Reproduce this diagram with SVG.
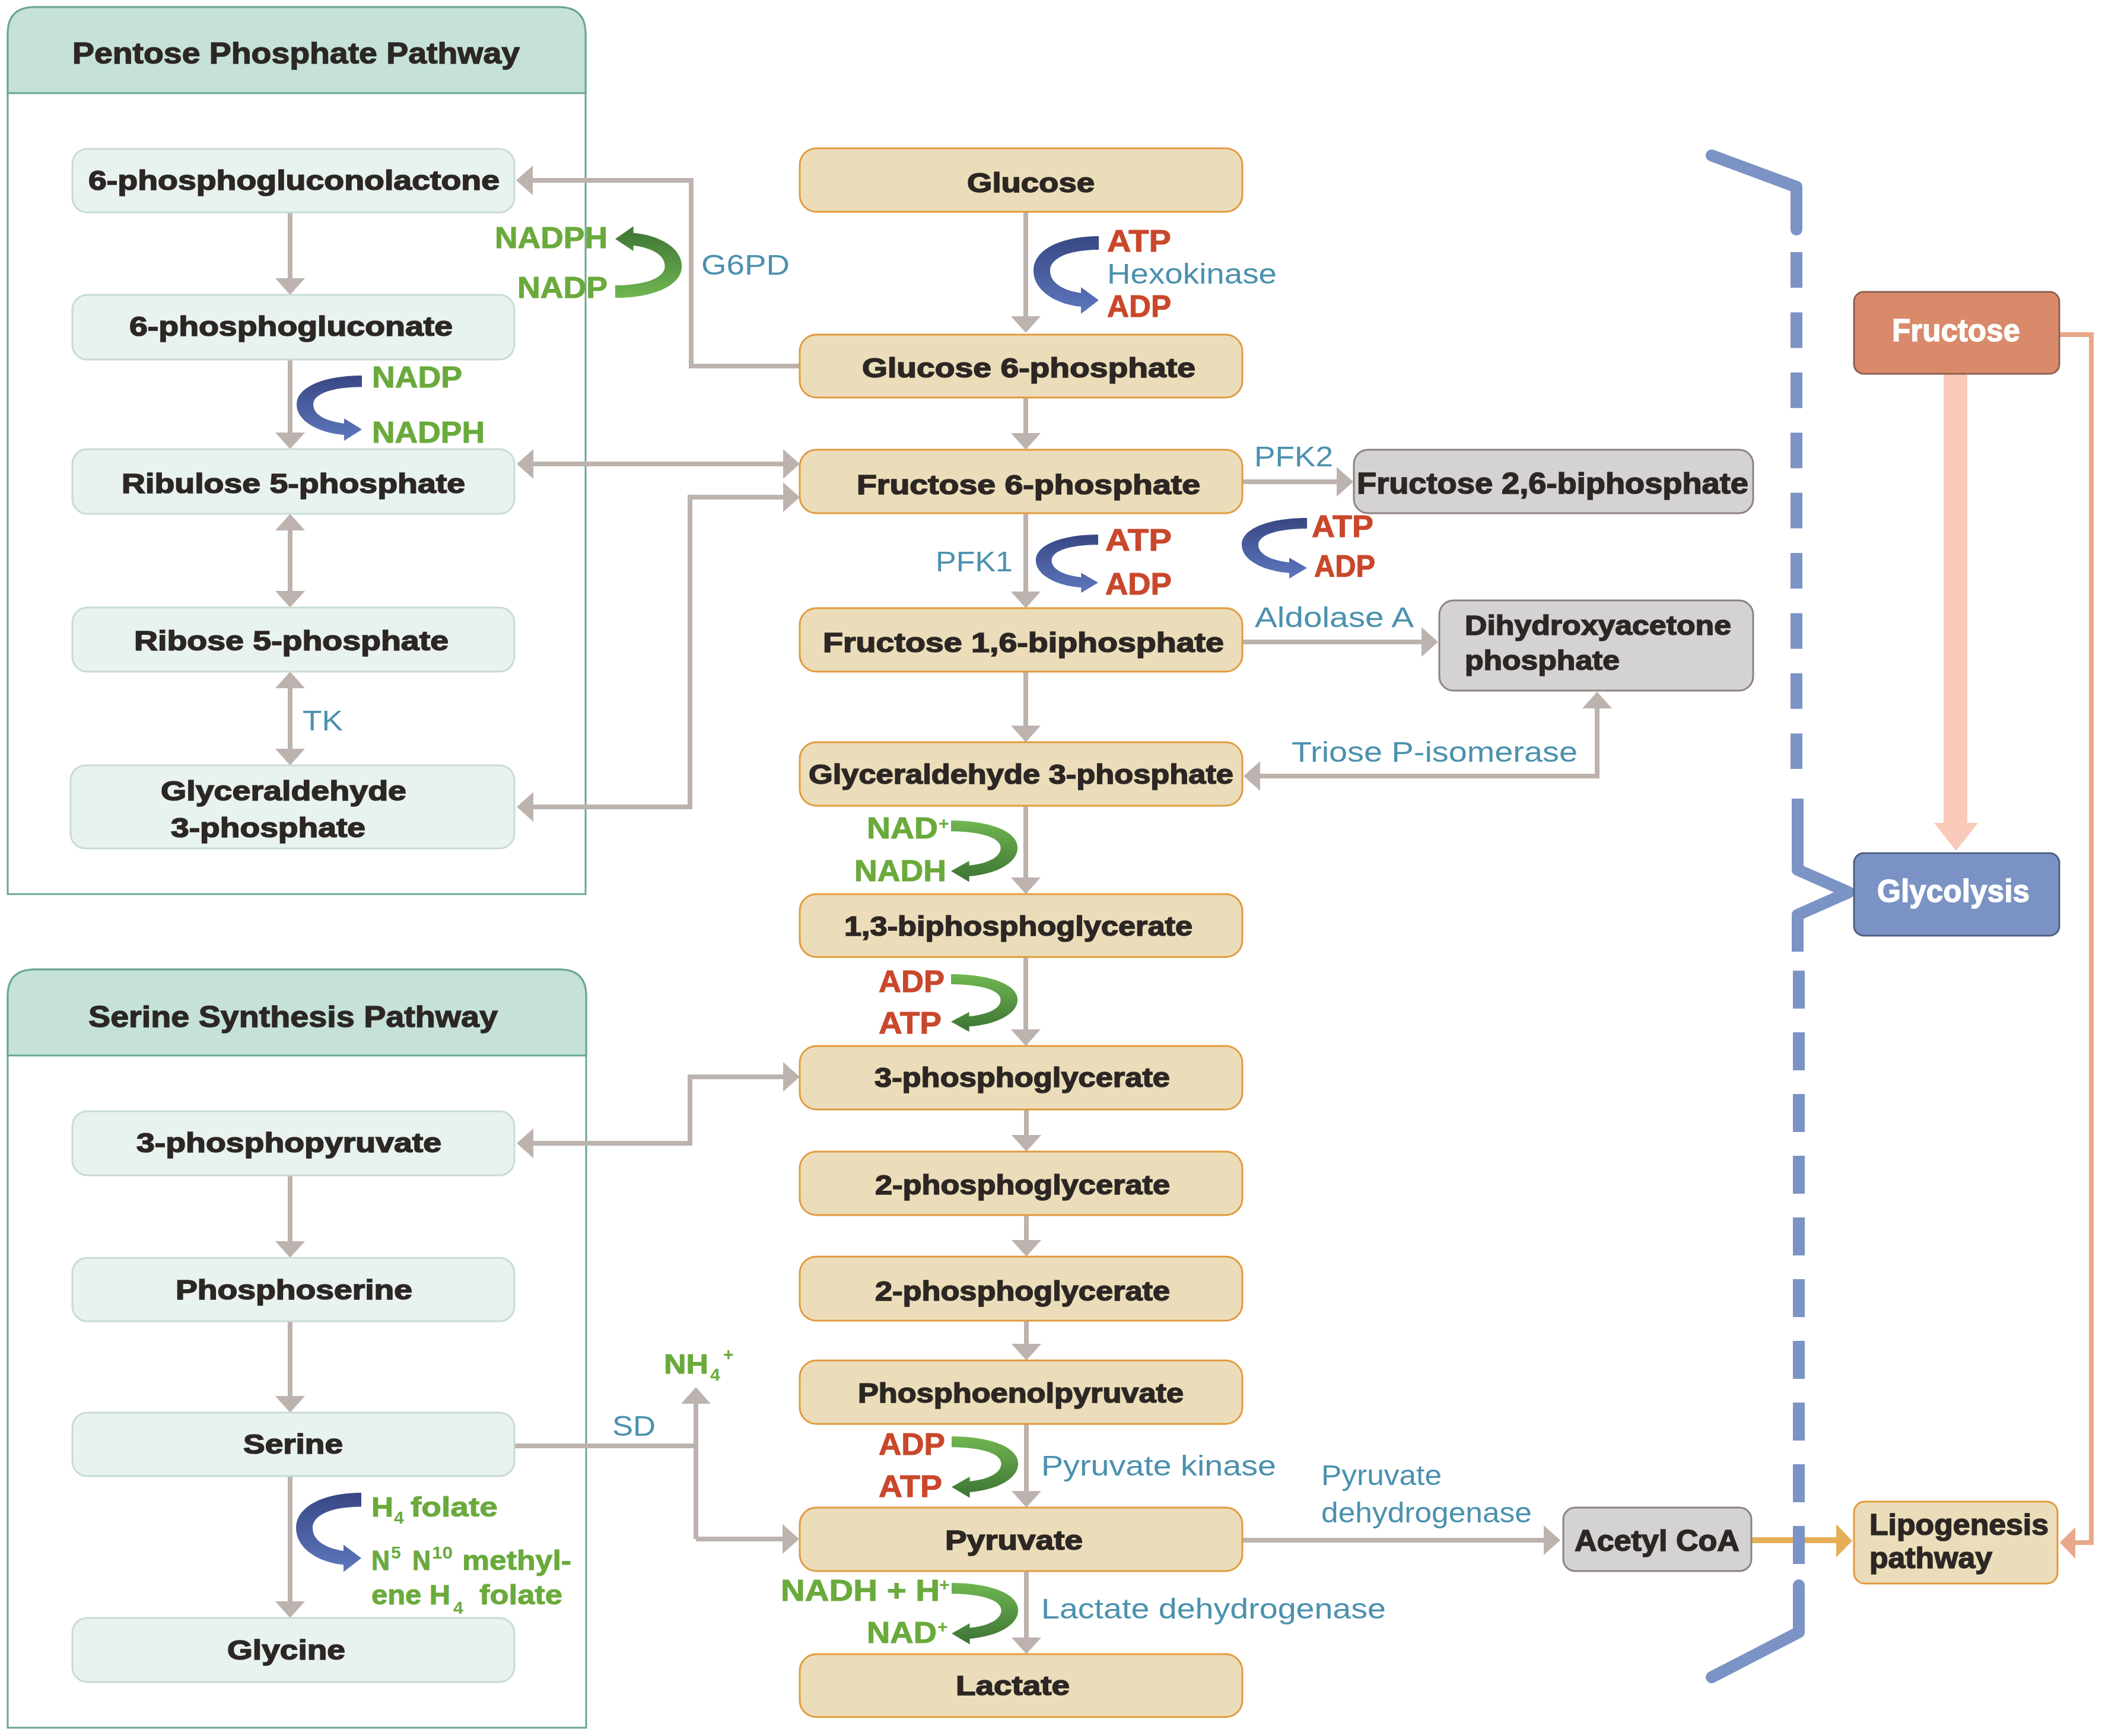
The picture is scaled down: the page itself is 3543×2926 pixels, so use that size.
<svg xmlns="http://www.w3.org/2000/svg" xmlns:xlink="http://www.w3.org/1999/xlink" width="3543" height="2926" viewBox="0 0 3543 2926">
<style>
text{font-family:"Liberation Sans",Arial,sans-serif}
.n{font-weight:bold;font-size:46px;fill:#2C2724;stroke:#2C2724;stroke-width:1.6px}
.nl{font-weight:bold;font-size:50px;fill:#2C2724;stroke:#2C2724;stroke-width:1.6px}
.hd{font-weight:bold;font-size:50px;fill:#2C2724;stroke:#2C2724;stroke-width:1.4px}
.w{font-weight:bold;font-size:54px;fill:#FFFFFF;stroke:#FFFFFF;stroke-width:1.4px}
.r{font-weight:bold;font-size:52px;fill:#C9472B;stroke:#C9472B;stroke-width:1px}
.g{font-weight:bold;font-size:50px;fill:#6AAA3C;stroke:#6AAA3C;stroke-width:1px}
.gs{font-weight:bold;font-size:46px;fill:#6AAA3C;stroke:#6AAA3C;stroke-width:1px}
.gsub{font-weight:bold;font-size:30px;fill:#6AAA3C}
.b{font-size:48px;fill:#4B91AE}
.pn{fill:#E8F2EF;stroke:#C8DCD5;stroke-width:3}
.cn{fill:#EBDDB9;stroke:#E29A3E;stroke-width:3}
.gn{fill:#D4D2D3;stroke:#8E8280;stroke-width:3}
.con{fill:none;stroke:#BDB3AE;stroke-width:8}
.frame{fill:#FFFFFF;stroke:#6BA597;stroke-width:3}
.hdr{fill:#C5E1D8;stroke:#6BA597;stroke-width:3}
.dash{fill:none;stroke:#7B93C5;stroke-width:20}
</style>
<defs>
<marker id="ah" viewBox="0 0 28 50" markerWidth="28" markerHeight="50" refX="14" refY="25" markerUnits="userSpaceOnUse" orient="auto-start-reverse">
<path d="M0,0 L28,25 L0,50 Z" fill="#BDB3AE"/>
</marker>
<linearGradient id="gBlue" x1="0" y1="0" x2="0" y2="1">
<stop offset="0" stop-color="#384783"/>
<stop offset="1" stop-color="#5D77BE"/>
</linearGradient>
<linearGradient id="gGreen" x1="0" y1="0" x2="0" y2="1">
<stop offset="0" stop-color="#70B651"/>
<stop offset="1" stop-color="#3C7334"/>
</linearGradient>
<path id="carrow" d="M0,0 C-62,0 -110,22 -110,58 C-110,92 -72,115 -30,119 L-30,131 L0,108 L-30,86 L-30,96 C-58,92 -82,80 -82,58 C-82,36 -48,23 0,23 Z"/>
</defs>

<rect width="3543" height="2926" fill="#FFFFFF"/>

<!-- Pathway frames -->
<g id="ppp-frame">
<path class="frame" d="M13,1507 V57 Q13,12 58,12 H942 Q987,12 987,57 V1507 Z"/>
<path class="hdr" d="M13,157 V57 Q13,12 58,12 H942 Q987,12 987,57 V157 Z"/>
<text class="hd" x="122" y="107" textLength="754" lengthAdjust="spacingAndGlyphs">Pentose Phosphate Pathway</text>
</g>
<g id="ssp-frame">
<path class="frame" d="M13,2912 V1679 Q13,1634 58,1634 H943 Q988,1634 988,1679 V2912 Z"/>
<path class="hdr" d="M13,1779 V1679 Q13,1634 58,1634 H943 Q988,1634 988,1679 V1779 Z"/>
<text class="hd" x="149" y="1731" textLength="690" lengthAdjust="spacingAndGlyphs">Serine Synthesis Pathway</text>
</g>

<!-- Connectors -->
<g id="connectors">
<path class="con" d="M489,358 V483" marker-end="url(#ah)"/>
<path class="con" d="M489,606 V743" marker-end="url(#ah)"/>
<path class="con" d="M489,880 V1010" marker-start="url(#ah)" marker-end="url(#ah)"/>
<path class="con" d="M489,1146 V1276" marker-start="url(#ah)" marker-end="url(#ah)"/>
<path class="con" d="M489,1981 V2106" marker-end="url(#ah)"/>
<path class="con" d="M489,2227 V2367" marker-end="url(#ah)"/>
<path class="con" d="M489,2488 V2713" marker-end="url(#ah)"/>
<path class="con" d="M1348,617 H1165 V304 H884" marker-end="url(#ah)"/>
<path class="con" d="M885,782 H1334" marker-start="url(#ah)" marker-end="url(#ah)"/>
<path class="con" d="M885,1360 H1163 V838 H1334" marker-start="url(#ah)" marker-end="url(#ah)"/>
<path class="con" d="M885,1927 H1163 V1815 H1334" marker-start="url(#ah)" marker-end="url(#ah)"/>
<path class="con" d="M867,2437 H1173"/>
<path class="con" d="M1173,2594 V2352" marker-end="url(#ah)"/>
<path class="con" d="M1173,2594 H1333" marker-end="url(#ah)"/>
<path class="con" d="M1729,357 V547" marker-end="url(#ah)"/>
<path class="con" d="M1729,670 V744" marker-end="url(#ah)"/>
<path class="con" d="M1729,865 V1011" marker-end="url(#ah)"/>
<path class="con" d="M1729,1132 V1237" marker-end="url(#ah)"/>
<path class="con" d="M1729,1358 V1493" marker-end="url(#ah)"/>
<path class="con" d="M1729,1613 V1749" marker-end="url(#ah)"/>
<path class="con" d="M1730,1870 V1927" marker-end="url(#ah)"/>
<path class="con" d="M1730,2048 V2104" marker-end="url(#ah)"/>
<path class="con" d="M1730,2226 V2279" marker-end="url(#ah)"/>
<path class="con" d="M1730,2400 V2527" marker-end="url(#ah)"/>
<path class="con" d="M1730,2648 V2774" marker-end="url(#ah)"/>
<path class="con" d="M2094,812 H2267" marker-end="url(#ah)"/>
<path class="con" d="M2094,1082 H2410" marker-end="url(#ah)"/>
<path class="con" d="M2692,1180 V1308 H2110" marker-start="url(#ah)" marker-end="url(#ah)"/>
<path class="con" d="M2094,2596 H2616" marker-end="url(#ah)"/>
<path d="M2952,2596 H3098" fill="none" stroke="#E5AE55" stroke-width="10"/>
<path d="M3095,2569 L3122,2597 L3095,2625 Z" fill="#E5AE55"/>
<path d="M3471,564 H3525 V2600 H3490" fill="none" stroke="#E9A88A" stroke-width="8"/>
<path d="M3498,2574 L3472,2600 L3498,2627 Z" fill="#E9A88A"/>
<path d="M3276,630 H3316 V1387 H3334 L3297,1434 L3260,1387 H3276 Z" fill="#F9C9B9"/>
<path class="dash" d="M2885,262 L3028,315 V387" stroke-linecap="round" stroke-linejoin="round"/>
<path class="dash" d="M3028,425 V1296" stroke-dasharray="60 41.4"/>
<path class="dash" d="M3030,1346 V1466 L3116,1504 L3030,1542 V1604" stroke-linejoin="round"/>
<path class="dash" d="M3032,1636 V2636" stroke-dasharray="64 40"/>
<path class="dash" d="M3032,2672 V2751 L2885,2827" stroke-linecap="round" stroke-linejoin="round"/>
</g>

<!-- Cofactor curved arrows -->
<g id="cofactor-arrows">
<use xlink:href="#carrow" href="#carrow" fill="url(#gBlue)" transform="translate(1852,398)"/>
<use xlink:href="#carrow" href="#carrow" fill="url(#gBlue)" transform="translate(1851,901) scale(0.955,0.75)"/>
<use xlink:href="#carrow" href="#carrow" fill="url(#gBlue)" transform="translate(2203,873) scale(1,0.78)"/>
<use xlink:href="#carrow" href="#carrow" fill="url(#gBlue)" transform="translate(610,633) scale(1,0.84)"/>
<use xlink:href="#carrow" href="#carrow" fill="url(#gBlue)" transform="translate(609,2516) scale(1,1.02)"/>
<use xlink:href="#carrow" href="#carrow" fill="url(#gGreen)" transform="translate(1037,502) scale(-1.02,-0.92)"/>
<use xlink:href="#carrow" href="#carrow" fill="url(#gGreen)" transform="translate(1603,1383) scale(-1.02,0.79)"/>
<use xlink:href="#carrow" href="#carrow" fill="url(#gGreen)" transform="translate(1603,1642) scale(-1.02,0.74)"/>
<use xlink:href="#carrow" href="#carrow" fill="url(#gGreen)" transform="translate(1604,2421) scale(-1.02,0.79)"/>
<use xlink:href="#carrow" href="#carrow" fill="url(#gGreen)" transform="translate(1604,2668) scale(-1.02,0.79)"/>
</g>

<!-- PPP nodes -->
<g id="n-6pgl"><rect class="pn" x="122" y="251" width="745" height="107" rx="25"/><text class="n" x="149" y="320" textLength="693" lengthAdjust="spacingAndGlyphs">6-phosphogluconolactone</text></g>
<g id="n-6pg"><rect class="pn" x="122" y="497" width="745" height="109" rx="25"/><text class="n" x="218" y="566" textLength="545" lengthAdjust="spacingAndGlyphs">6-phosphogluconate</text></g>
<g id="n-ru5p"><rect class="pn" x="122" y="757" width="745" height="109" rx="25"/><text class="n" x="205" y="831" textLength="579" lengthAdjust="spacingAndGlyphs">Ribulose 5-phosphate</text></g>
<g id="n-r5p"><rect class="pn" x="122" y="1024" width="745" height="108" rx="25"/><text class="n" x="226" y="1096" textLength="530" lengthAdjust="spacingAndGlyphs">Ribose 5-phosphate</text></g>
<g id="n-ga3p-ppp"><rect class="pn" x="119" y="1290" width="748" height="140" rx="25"/><text class="n" x="271" y="1349" textLength="414" lengthAdjust="spacingAndGlyphs">Glyceraldehyde</text><text class="n" x="288" y="1411" textLength="328" lengthAdjust="spacingAndGlyphs">3-phosphate</text></g>

<!-- SSP nodes -->
<g id="n-3pp"><rect class="pn" x="122" y="1873" width="745" height="108" rx="25"/><text class="n" x="230" y="1942" textLength="514" lengthAdjust="spacingAndGlyphs">3-phosphopyruvate</text></g>
<g id="n-ps"><rect class="pn" x="122" y="2120" width="745" height="107" rx="25"/><text class="n" x="296" y="2190" textLength="399" lengthAdjust="spacingAndGlyphs">Phosphoserine</text></g>
<g id="n-ser"><rect class="pn" x="122" y="2381" width="745" height="107" rx="25"/><text class="n" x="410" y="2450" textLength="168" lengthAdjust="spacingAndGlyphs">Serine</text></g>
<g id="n-gly"><rect class="pn" x="122" y="2727" width="745" height="108" rx="25"/><text class="n" x="383" y="2797" textLength="199" lengthAdjust="spacingAndGlyphs">Glycine</text></g>

<!-- Glycolysis column -->
<g id="n-glc"><rect class="cn" x="1348" y="250" width="746" height="107" rx="28"/><text class="n" x="1630" y="324" textLength="215" lengthAdjust="spacingAndGlyphs">Glucose</text></g>
<g id="n-g6p"><rect class="cn" x="1348" y="564" width="746" height="106" rx="28"/><text class="n" x="1453" y="636" textLength="562" lengthAdjust="spacingAndGlyphs">Glucose 6-phosphate</text></g>
<g id="n-f6p"><rect class="cn" x="1348" y="758" width="746" height="107" rx="28"/><text class="n" x="1444" y="833" textLength="579" lengthAdjust="spacingAndGlyphs">Fructose 6-phosphate</text></g>
<g id="n-f16bp"><rect class="cn" x="1348" y="1025" width="746" height="107" rx="28"/><text class="n" x="1387" y="1099" textLength="676" lengthAdjust="spacingAndGlyphs">Fructose 1,6-biphosphate</text></g>
<g id="n-ga3p"><rect class="cn" x="1348" y="1251" width="746" height="107" rx="28"/><text class="n" x="1363" y="1321" textLength="716" lengthAdjust="spacingAndGlyphs">Glyceraldehyde 3-phosphate</text></g>
<g id="n-13bpg"><rect class="cn" x="1348" y="1507" width="746" height="106" rx="28"/><text class="n" x="1423" y="1577" textLength="587" lengthAdjust="spacingAndGlyphs">1,3-biphosphoglycerate</text></g>
<g id="n-3pg"><rect class="cn" x="1348" y="1763" width="746" height="107" rx="28"/><text class="n" x="1474" y="1832" textLength="498" lengthAdjust="spacingAndGlyphs">3-phosphoglycerate</text></g>
<g id="n-2pg-a"><rect class="cn" x="1348" y="1941" width="746" height="107" rx="28"/><text class="n" x="1475" y="2013" textLength="497" lengthAdjust="spacingAndGlyphs">2-phosphoglycerate</text></g>
<g id="n-2pg-b"><rect class="cn" x="1348" y="2118" width="746" height="108" rx="28"/><text class="n" x="1475" y="2192" textLength="497" lengthAdjust="spacingAndGlyphs">2-phosphoglycerate</text></g>
<g id="n-pep"><rect class="cn" x="1348" y="2293" width="746" height="107" rx="28"/><text class="n" x="1446" y="2364" textLength="549" lengthAdjust="spacingAndGlyphs">Phosphoenolpyruvate</text></g>
<g id="n-pyr"><rect class="cn" x="1348" y="2541" width="746" height="107" rx="28"/><text class="n" x="1593" y="2612" textLength="232" lengthAdjust="spacingAndGlyphs">Pyruvate</text></g>
<g id="n-lac"><rect class="cn" x="1348" y="2788" width="746" height="106" rx="28"/><text class="n" x="1611" y="2857" textLength="192" lengthAdjust="spacingAndGlyphs">Lactate</text></g>

<!-- Side products -->
<g id="n-f26bp"><rect class="gn" x="2282" y="758" width="673" height="107" rx="24"/><text class="nl" x="2287" y="832" textLength="660" lengthAdjust="spacingAndGlyphs">Fructose 2,6-biphosphate</text></g>
<g id="n-dhap"><rect class="gn" x="2426" y="1012" width="529" height="152" rx="24"/><text class="n" x="2469" y="1070" textLength="449" lengthAdjust="spacingAndGlyphs">Dihydroxyacetone</text><text class="n" x="2469" y="1129" textLength="261" lengthAdjust="spacingAndGlyphs">phosphate</text></g>
<g id="n-acoa"><rect class="gn" x="2635" y="2541" width="317" height="107" rx="20"/><text class="nl" x="2654" y="2614" textLength="278" lengthAdjust="spacingAndGlyphs">Acetyl CoA</text></g>
<g id="n-fructose"><rect x="3125" y="492" width="346" height="138" rx="16" fill="#D98A6A" stroke="#8E6050" stroke-width="3"/><text class="w" x="3189" y="575" textLength="216" lengthAdjust="spacingAndGlyphs">Fructose</text></g>
<g id="n-glycolysis"><rect x="3125" y="1438" width="346" height="139" rx="16" fill="#7B93C4" stroke="#4F5F82" stroke-width="3"/><text class="w" x="3164" y="1520" textLength="257" lengthAdjust="spacingAndGlyphs">Glycolysis</text></g>
<g id="n-lipo"><rect class="cn" x="3125" y="2531" width="343" height="138" rx="18"/><text class="nl" x="3151" y="2587" textLength="302" lengthAdjust="spacingAndGlyphs">Lipogenesis</text><text class="nl" x="3151" y="2643" textLength="207" lengthAdjust="spacingAndGlyphs">pathway</text></g>

<!-- Enzyme labels -->
<g id="enzymes">
<text class="b" x="1182" y="463" textLength="149" lengthAdjust="spacingAndGlyphs">G6PD</text>
<text class="b" x="1866" y="478" textLength="286" lengthAdjust="spacingAndGlyphs">Hexokinase</text>
<text class="b" x="1577" y="963" textLength="130" lengthAdjust="spacingAndGlyphs">PFK1</text>
<text class="b" x="2114" y="786" textLength="133" lengthAdjust="spacingAndGlyphs">PFK2</text>
<text class="b" x="2115" y="1057" textLength="268" lengthAdjust="spacingAndGlyphs">Aldolase A</text>
<text class="b" x="2177" y="1284" textLength="482" lengthAdjust="spacingAndGlyphs">Triose P-isomerase</text>
<text class="b" x="510" y="1231" textLength="68" lengthAdjust="spacingAndGlyphs">TK</text>
<text class="b" x="1032" y="2420" textLength="73" lengthAdjust="spacingAndGlyphs">SD</text>
<text class="b" x="1755" y="2487" textLength="396" lengthAdjust="spacingAndGlyphs">Pyruvate kinase</text>
<text class="b" x="2227" y="2503" textLength="203" lengthAdjust="spacingAndGlyphs">Pyruvate</text>
<text class="b" x="2227" y="2566" textLength="355" lengthAdjust="spacingAndGlyphs">dehydrogenase</text>
<text class="b" x="1755" y="2728" textLength="581" lengthAdjust="spacingAndGlyphs">Lactate dehydrogenase</text>
</g>

<!-- Cofactor labels -->
<g id="cofactors">
<text class="g" x="834" y="418" textLength="190" lengthAdjust="spacingAndGlyphs">NADPH</text>
<text class="g" x="872" y="502" textLength="152" lengthAdjust="spacingAndGlyphs">NADP</text>
<text class="g" x="627" y="653" textLength="152" lengthAdjust="spacingAndGlyphs">NADP</text>
<text class="g" x="627" y="746" textLength="190" lengthAdjust="spacingAndGlyphs">NADPH</text>
<text class="r" x="1866" y="424" textLength="108" lengthAdjust="spacingAndGlyphs">ATP</text>
<text class="r" x="1866" y="534" textLength="108" lengthAdjust="spacingAndGlyphs">ADP</text>
<text class="r" x="1863" y="928" textLength="112" lengthAdjust="spacingAndGlyphs">ATP</text>
<text class="r" x="1863" y="1002" textLength="112" lengthAdjust="spacingAndGlyphs">ADP</text>
<text class="r" x="2211" y="905" textLength="104" lengthAdjust="spacingAndGlyphs">ATP</text>
<text class="r" x="2215" y="972" textLength="103" lengthAdjust="spacingAndGlyphs">ADP</text>
<text class="g" x="1461" y="1413" textLength="120" lengthAdjust="spacingAndGlyphs">NAD</text>
<text class="gsub" x="1582" y="1398">+</text>
<text class="g" x="1440" y="1485" textLength="155" lengthAdjust="spacingAndGlyphs">NADH</text>
<text class="r" x="1481" y="1672" textLength="111" lengthAdjust="spacingAndGlyphs">ADP</text>
<text class="r" x="1481" y="1742" textLength="106" lengthAdjust="spacingAndGlyphs">ATP</text>
<text class="r" x="1481" y="2452" textLength="112" lengthAdjust="spacingAndGlyphs">ADP</text>
<text class="r" x="1481" y="2523" textLength="107" lengthAdjust="spacingAndGlyphs">ATP</text>
<text class="g" x="1316" y="2698" textLength="268" lengthAdjust="spacingAndGlyphs">NADH + H</text>
<text class="gsub" x="1583" y="2681">+</text>
<text class="g" x="1461" y="2769" textLength="118" lengthAdjust="spacingAndGlyphs">NAD</text>
<text class="gsub" x="1580" y="2752">+</text>
<text class="gs" x="626" y="2556" textLength="37" lengthAdjust="spacingAndGlyphs">H</text>
<text class="gsub" x="664" y="2568">4</text>
<text class="gs" x="692" y="2556" textLength="147" lengthAdjust="spacingAndGlyphs">folate</text>
<text class="gs" x="626" y="2646" textLength="31" lengthAdjust="spacingAndGlyphs">N</text>
<text class="gsub" x="659" y="2627">5</text>
<text class="gs" x="695" y="2646" textLength="31" lengthAdjust="spacingAndGlyphs">N</text>
<text class="gsub" x="728" y="2627" textLength="35" lengthAdjust="spacingAndGlyphs">10</text>
<text class="gs" x="779" y="2646" textLength="184" lengthAdjust="spacingAndGlyphs">methyl-</text>
<text class="gs" x="626" y="2704" textLength="133" lengthAdjust="spacingAndGlyphs">ene H</text>
<text class="gsub" x="764" y="2720">4</text>
<text class="gs" x="808" y="2704" textLength="140" lengthAdjust="spacingAndGlyphs">folate</text>
<text class="gs" x="1119" y="2315" textLength="75" lengthAdjust="spacingAndGlyphs">NH</text>
<text class="gsub" x="1197" y="2327">4</text>
<text class="gsub" x="1219" y="2293">+</text>
</g>
</svg>
